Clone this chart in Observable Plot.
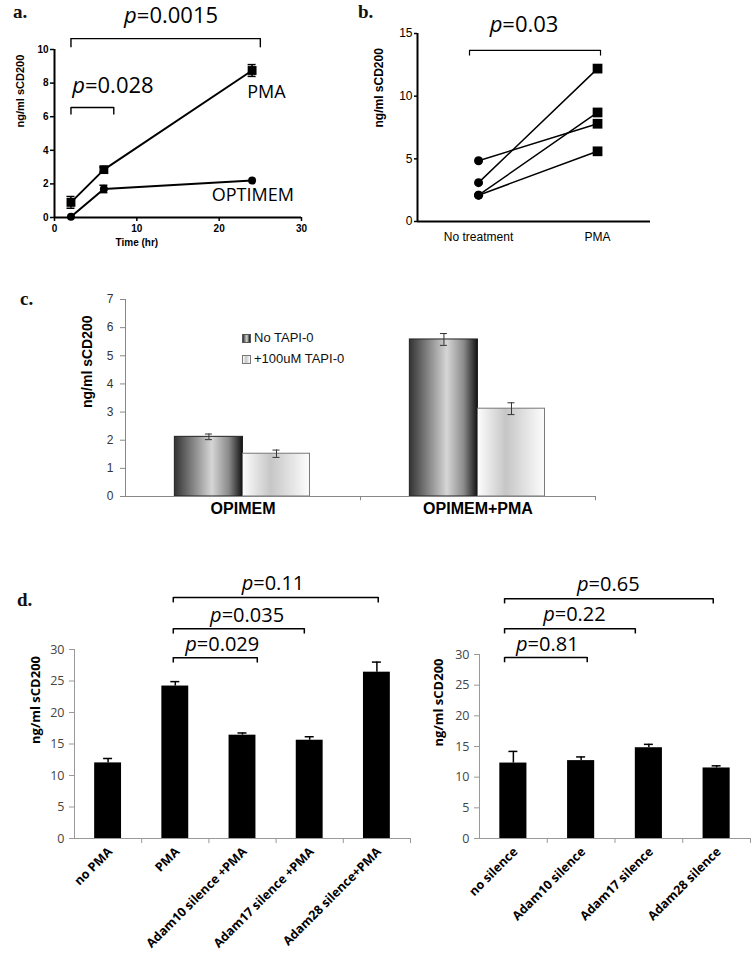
<!DOCTYPE html>
<html><head><meta charset="utf-8">
<script src="https://cdn.jsdelivr.net/npm/d3@7"></script>
<script src="https://cdn.jsdelivr.net/npm/@observablehq/plot@0.6"></script>
<style>
body{margin:0;background:#fff;}
#root{position:relative;width:753px;height:960px;overflow:hidden;background:#fff;}
.panel{position:absolute;}
.panel svg{overflow:visible;background:transparent;}
.letter{position:absolute;font-family:"Liberation Serif","DejaVu Serif",serif;font-weight:bold;font-size:19px;line-height:1;color:#111;}
.legend{position:absolute;font-family:"Liberation Sans",Arial,sans-serif;font-size:13px;color:#111;line-height:1;white-space:nowrap;}
.legend .sw{display:inline-block;width:9px;height:9px;border:1px solid #555;vertical-align:-1px;margin-right:3px;box-sizing:border-box;}
</style></head><body><div id="root"></div>
<script>
// ---------- data ----------
// panel a
const aTimes = [2, 6, 24];
const aPMA = [0.9, 2.85, 8.75];
const aPMAerr = [0.35, 0.15, 0.35];
const aOPTIMEM = [0.05, 1.7, 2.2];
const aOPTIMEMerr = [0, 0.22, 0];
const aXTicks = [0, 10, 20, 30];
const aYTicks = [0, 2, 4, 6, 8, 10];
// panel b
const bConditions = ["No treatment", "PMA"];
const bNoTreatment = [4.85, 3.1, 2.1, 2.1];
const bPMA = [7.8, 12.2, 8.7, 5.6];
const bYTicks = [0, 5, 10, 15];
// panel c
const cGroups = ["OPIMEM", "OPIMEM+PMA"];
const cSeries = ["No TAPI-0", "+100uM TAPI-0"];
const cNoTAPI = [2.12, 5.58];
const cNoTAPIerr = [0.1, 0.21];
const cTAPI = [1.52, 3.12];
const cTAPIerr = [0.13, 0.21];
const cYTicks = [0, 1, 2, 3, 4, 5, 6, 7];
// panel d
const dLeftCats = ["no PMA", "PMA", "Adam10 silence +PMA", "Adam17 silence +PMA", "Adam28 silence+PMA"];
const dLeftVals = [12.0, 24.2, 16.4, 15.6, 26.4];
const dLeftErr = [0.7, 0.7, 0.35, 0.55, 1.6];
const dRightCats = ["no silence", "Adam10 silence", "Adam17 silence", "Adam28 silence"];
const dRightVals = [12.3, 12.7, 14.8, 11.5];
const dRightErr = [1.9, 0.6, 0.55, 0.35];
const dYTicks = [0, 5, 10, 15, 20, 25, 30];
const yLabel = "ng/ml sCD200";

// ---------- annotations (data units) ----------
const aBrackets = [
  {x1: 2, x2: 25, y: 10.65, drop: 0.55, lx: 10.0, ly: 11.55, label: "=0.0015"},
  {x1: 2, x2: 7.2, y: 6.55, drop: 0.45, lx: 3.7, ly: 7.4, label: "=0.028"}
];
const aSeriesLabels = [{text: "PMA", x: 23.4, y: 7.1}, {text: "OPTIMEM", x: 19.1, y: 1.0}];
const bXDomain = [-0.513, 1.445];
const bBrackets = [{x1: -0.076, x2: 1.025, y: 13.65, drop: 0.45, lx: 0.2, ly: 15.1, label: "=0.03"}];
const dLeftBrackets = [
  {x1: 1.47, x2: 2.72, y: 28.7, drop: 0.85, lx: 1.82, ly: 29.7, label: "=0.029"},
  {x1: 1.47, x2: 3.42, y: 33.3, drop: 0.85, lx: 2.19, ly: 34.3, label: "=0.035"},
  {x1: 1.47, x2: 4.52, y: 38.25, drop: 0.85, lx: 2.66, ly: 39.4, label: "=0.11"}
];
const dRightBrackets = [
  {x1: 0.37, x2: 1.59, y: 29.5, drop: 0.85, lx: 0.71, ly: 30.5, label: "=0.81"},
  {x1: 0.37, x2: 2.30, y: 34.2, drop: 0.85, lx: 1.11, ly: 35.4, label: "=0.22"},
  {x1: 0.37, x2: 3.45, y: 39.1, drop: 0.85, lx: 1.61, ly: 40.4, label: "=0.65"}
];

// ---------- helpers ----------
const PFONT = "'Open Sans', 'Noto Sans', sans-serif";
const ARIAL = "'Liberation Sans', Arial, sans-serif";
const root = document.getElementById("root");
function place(node, left, top) {
  const d = document.createElement("div");
  d.className = "panel"; d.style.left = left + "px"; d.style.top = top + "px";
  d.appendChild(node); root.appendChild(d);
}
function letter(t, left, top) {
  const d = document.createElement("div");
  d.className = "letter"; d.textContent = t; d.style.left = left + "px"; d.style.top = top + "px";
  root.appendChild(d);
}
function bracketMarks(br, sw, fs) {
  const ends = br.flatMap(b => [{x: b.x1, y1: b.y, y2: b.y - b.drop}, {x: b.x2, y1: b.y, y2: b.y - b.drop}]);
  return [
    Plot.link(br, {x1: "x1", x2: "x2", y1: "y", y2: "y", stroke: "#000", strokeWidth: sw}),
    Plot.ruleX(ends, {x: "x", y1: "y1", y2: "y2", stroke: "#000", strokeWidth: sw}),
    Plot.text(br, {x: "lx", y: "ly", text: () => "p", fontStyle: "italic", textAnchor: "end", lineAnchor: "bottom", fontSize: fs, fontFamily: PFONT, fontWeight: "normal", fill: "#000"}),
    Plot.text(br, {x: "lx", y: "ly", text: "label", textAnchor: "start", lineAnchor: "bottom", fontSize: fs, fontFamily: PFONT, fontWeight: "normal", fill: "#000"})
  ];
}
function caps(rows, xAcc, lo, hi) {
  return rows.flatMap(d => [{x: xAcc(d), y: hi(d)}, {x: xAcc(d), y: lo(d)}]);
}
function addGradients(svg) {
  const ns = "http://www.w3.org/2000/svg";
  const defs = document.createElementNS(ns, "defs");
  const mk = (id, stops) => {
    const g = document.createElementNS(ns, "linearGradient");
    g.setAttribute("id", id); g.setAttribute("x1", "0"); g.setAttribute("x2", "1");
    g.setAttribute("y1", "0"); g.setAttribute("y2", "0");
    for (const [o, c] of stops) {
      const s = document.createElementNS(ns, "stop");
      s.setAttribute("offset", o); s.setAttribute("stop-color", c); g.appendChild(s);
    }
    defs.appendChild(g);
  };
  mk("gDark", [["0", "#333"], ["0.55", "#d6d6d6"], ["0.8", "#8a8a8a"], ["1", "#111"]]);
  mk("gLight", [["0", "#fdfdfd"], ["0.42", "#c6c6c6"], ["1", "#fdfdfd"]]);
  svg.insertBefore(defs, svg.firstChild);
}

// ---------- panel a ----------
{
  const pma = aTimes.map((t, i) => ({t, v: aPMA[i], e: aPMAerr[i]}));
  const opt = aTimes.map((t, i) => ({t, v: aOPTIMEM[i], e: aOPTIMEMerr[i]}));
  const withErr = [...pma, ...opt].filter(d => d.e > 0);
  const capRows = caps(withErr, d => d.t, d => d.v - d.e, d => d.v + d.e);
  const svg = Plot.plot({
    width: 320, height: 260, marginLeft: 54, marginRight: 19, marginTop: 49, marginBottom: 43,
    x: {domain: [0, 30]}, y: {domain: [0, 10]},
    style: {fontFamily: ARIAL, fontSize: "10px", color: "#000", background: "transparent", overflow: "visible"},
    marks: [
      Plot.axisX({ticks: aXTicks, tickSize: 4, tickPadding: 3, label: null, fontWeight: "bold", fontSize: 10, strokeWidth: 1.5}),
      Plot.axisY({ticks: aYTicks, tickSize: 4, tickPadding: 2, label: null, fontWeight: "bold", fontSize: 10, strokeWidth: 1.5}),
      Plot.ruleX([0], {strokeWidth: 2}),
      Plot.ruleY([0], {strokeWidth: 2}),
      Plot.text([yLabel], {frameAnchor: "left", rotate: -90, dx: -34, dy: -6, fontWeight: "bold", fontSize: 11}),
      Plot.text(["Time (hr)"], {x: () => 10, frameAnchor: "bottom", dy: 28, fontWeight: "bold", fontSize: 10}),
      Plot.ruleX(withErr, {x: "t", y1: d => d.v - d.e, y2: d => d.v + d.e, strokeWidth: 1.5}),
      Plot.ruleY(capRows, {x1: "x", x2: "x", y: "y", insetLeft: -4, insetRight: -4, strokeWidth: 1.5}),
      Plot.line(pma, {x: "t", y: "v", strokeWidth: 2}),
      Plot.line(opt, {x: "t", y: "v", strokeWidth: 2}),
      Plot.dot(pma, {x: "t", y: "v", symbol: "square", r: 5, fill: "#000"}),
      Plot.dot(opt, {x: "t", y: "v", r: 4, fill: "#000"}),
      Plot.text(aSeriesLabels, {x: "x", y: "y", text: "text", textAnchor: "start", lineAnchor: "bottom", fontSize: 18, fontFamily: PFONT, fill: "#000"}),
      ...bracketMarks(aBrackets, 1.4, 22)
    ]
  });
  place(svg, 0, 0);
  letter("a.", 13, 2);
}

// ---------- panel b ----------
{
  const rows = bNoTreatment.flatMap((v, i) => [{id: i, c: 0, v}, {id: i, c: 1, v: bPMA[i]}]);
  const svg = Plot.plot({
    width: 320, height: 260, marginLeft: 67, marginRight: 20, marginTop: 33, marginBottom: 39,
    x: {domain: bXDomain}, y: {domain: [0, 15]},
    style: {fontFamily: ARIAL, fontSize: "12px", color: "#000", background: "transparent", overflow: "visible"},
    marks: [
      Plot.axisX({ticks: [0, 1], tickFormat: i => bConditions[i], tickSize: 0, tickPadding: 11, label: null, fontSize: 12}),
      Plot.axisY({ticks: bYTicks, tickSize: 3, tickPadding: 2, label: null, fontSize: 12, strokeWidth: 1.5}),
      Plot.ruleX([bXDomain[0]], {strokeWidth: 2}),
      Plot.ruleY([0], {strokeWidth: 2}),
      Plot.text([yLabel], {frameAnchor: "left", rotate: -90, dx: -38, fontWeight: "bold", fontSize: 12}),
      Plot.line(rows, {x: "c", y: "v", z: "id", strokeWidth: 1.5}),
      Plot.dot(rows.filter(d => d.c === 0), {x: "c", y: "v", r: 4.5, fill: "#000"}),
      Plot.dot(rows.filter(d => d.c === 1), {x: "c", y: "v", symbol: "square", r: 5.5, fill: "#000"}),
      ...bracketMarks(bBrackets, 1.2, 22)
    ]
  });
  place(svg, 350, 0);
  letter("b.", 358, 2);
}

// ---------- panel c ----------
{
  const rows = cGroups.flatMap((g, gi) => [
    {gi, series: cSeries[0], value: cNoTAPI[gi], err: cNoTAPIerr[gi], x1: gi + 0.21, x2: gi + 0.5},
    {gi, series: cSeries[1], value: cTAPI[gi], err: cTAPIerr[gi], x1: gi + 0.5, x2: gi + 0.785}
  ]);
  const capRows = caps(rows, d => (d.x1 + d.x2) / 2, d => d.value - d.err, d => d.value + d.err);
  const svg = Plot.plot({
    width: 753, height: 270, marginLeft: 125, marginRight: 158, marginTop: 39, marginBottom: 34,
    x: {domain: [0, cGroups.length], axis: null}, y: {domain: [0, 7]},
    style: {fontFamily: ARIAL, fontSize: "11px", color: "#000", background: "transparent", overflow: "visible"},
    marks: [
      Plot.axisY({ticks: cYTicks, tickFormat: d3.format("d"), tickSize: 5, tickPadding: 7, label: null, fontSize: 12, stroke: "#888", fill: "#333"}),
      Plot.rectY(rows.filter(d => d.series === cSeries[0]), {x1: "x1", x2: "x2", y1: 0, y2: "value", fill: "url(#gDark)", stroke: "#222", strokeWidth: 1}),
      Plot.rectY(rows.filter(d => d.series === cSeries[1]), {x1: "x1", x2: "x2", y1: 0, y2: "value", fill: "url(#gLight)", stroke: "#777", strokeWidth: 1}),
      Plot.ruleX([0], {stroke: "#888"}),
      Plot.ruleY([0], {stroke: "#888"}),
      Plot.ruleX(d3.range(1, cGroups.length + 1), {y1: 0, y2: -0.15, stroke: "#888"}),
      Plot.ruleX(rows, {x: d => (d.x1 + d.x2) / 2, y1: d => d.value - d.err, y2: d => d.value + d.err, stroke: "#333"}),
      Plot.ruleY(capRows, {x1: "x", x2: "x", y: "y", insetLeft: -3.5, insetRight: -3.5, stroke: "#333"}),
      Plot.text(cGroups, {x: (d, i) => i + 0.5, frameAnchor: "bottom", dy: 17, fontWeight: "bold", fontSize: 16}),
      Plot.text([yLabel], {frameAnchor: "left", rotate: -90, dx: -38, dy: 10, fontWeight: "bold", fontSize: 14})
    ]
  });
  addGradients(svg);
  place(svg, 0, 260);
  letter("c.", 20, 289);
  const lg = document.createElement("div");
  lg.className = "legend"; lg.style.left = "242px"; lg.style.top = "331px";
  lg.innerHTML = `<div style="margin-bottom:8px"><span class="sw" style="background:linear-gradient(to right,#333,#d6d6d6 55%,#111)"></span>${cSeries[0]}</div>` +
    `<div><span class="sw" style="background:linear-gradient(to right,#fdfdfd,#c6c6c6 42%,#fdfdfd);border-color:#777"></span>${cSeries[1]}</div>`;
  root.appendChild(lg);
}

// ---------- panel d ----------
function panelD(cats, vals, errs, brackets, opts) {
  const rows = cats.map((c, i) => ({c, i, value: vals[i], err: errs[i]}));
  return Plot.plot({
    width: opts.width, height: 400, marginLeft: opts.ml, marginRight: opts.mr, marginTop: opts.mt, marginBottom: 122,
    x: {domain: [0, cats.length], axis: null}, y: {domain: [0, 30]},
    style: {fontFamily: PFONT, fontSize: "12px", color: "#000", background: "transparent", overflow: "visible"},
    marks: [
      Plot.axisY({ticks: dYTicks, tickSize: 5, tickPadding: 5, label: null, fontSize: 12.5, stroke: "#999", fill: "#444"}),
      Plot.ruleX([0], {stroke: "#999"}),
      Plot.ruleY([0], {stroke: "#999"}),
      Plot.ruleX(d3.range(1, cats.length + 1), {y1: 0, y2: -0.8, stroke: "#999"}),
      Plot.rectY(rows, {x1: d => d.i + 0.3, x2: d => d.i + 0.7, y1: 0, y2: "value", fill: "#000"}),
      Plot.ruleX(rows, {x: d => d.i + 0.5, y1: "value", y2: d => d.value + d.err, strokeWidth: 1.5}),
      Plot.ruleY(rows, {x1: d => d.i + 0.5, x2: d => d.i + 0.5, y: d => d.value + d.err, insetLeft: -4.5, insetRight: -4.5, strokeWidth: 1.5}),
      Plot.text(rows, {x: d => d.i + 0.5, frameAnchor: "bottom", text: "c", rotate: -45, textAnchor: "end", dx: 5, dy: 14, fontWeight: "bold", fontSize: 12.5}),
      Plot.text([yLabel], {frameAnchor: "left", rotate: -90, dx: opts.ldx, fontWeight: "bold", fontSize: 13}),
      ...bracketMarks(brackets, 1.5, 20)
    ]
  });
}
place(panelD(dLeftCats, dLeftVals, dLeftErr, dLeftBrackets, {width: 420, ml: 74, mr: 10, mt: 89, ldx: -39}), 0, 560);
place(panelD(dRightCats, dRightVals, dRightErr, dRightBrackets, {width: 343, ml: 69, mr: 3, mt: 94, ldx: -41}), 410, 560);
letter("d.", 17, 590);
</script></body></html>
